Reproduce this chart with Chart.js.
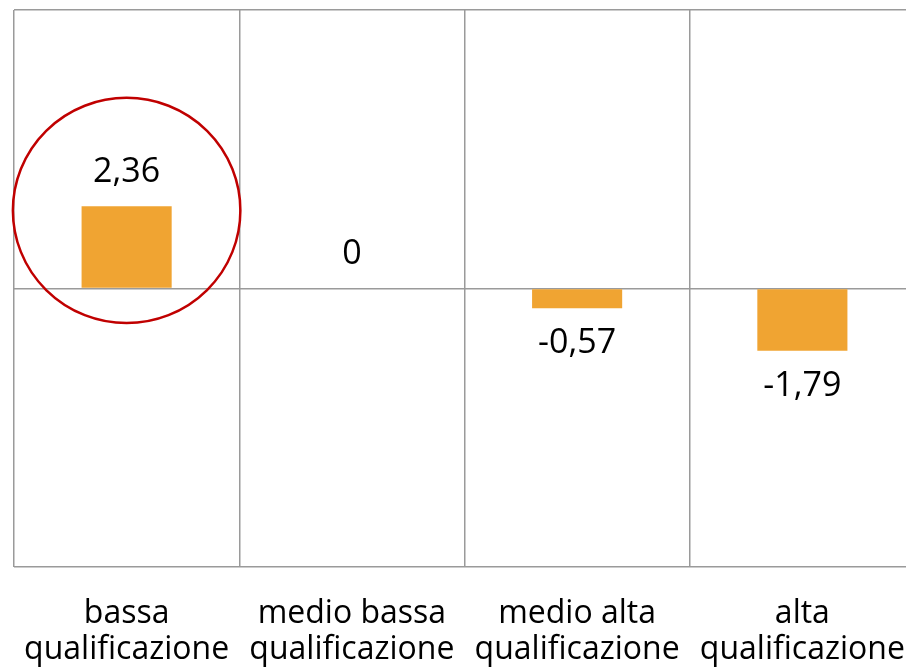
<!DOCTYPE html>
<html>
<head>
<meta charset="utf-8">
<script src="https://cdn.jsdelivr.net/npm/chart.js@4.4.1/dist/chart.umd.min.js"></script>
<style>
  html, body { margin: 0; padding: 0; background: #fff; overflow: hidden; }
  #wrap { width: 930px; height: 700px; position: relative; }
</style>
</head>
<body>
<div id="wrap"><canvas id="chart"></canvas></div>
<script>
// Data
const categories = [
    ['bassa', 'qualificazione'],
    ['medio bassa', 'qualificazione'],
    ['medio alta', 'qualificazione'],
    ['alta', 'qualificazione']
];
const values = [2.36, 0, -0.57, -1.79];
const yMin = -8;
const yMax = 8;
const highlightIndex = 0; // category circled in red

const fontFamily = "'Open Sans', 'Liberation Sans', sans-serif";

// value labels above / below each bar
const valueLabels = {
    id: 'valueLabels',
    afterDatasetsDraw(chart) {
        const ctx = chart.ctx;
        const meta = chart.getDatasetMeta(0);
        const yScale = chart.scales.y;
        const zero = yScale.getPixelForValue(0);
        ctx.save();
        ctx.font = '34px ' + fontFamily;
        ctx.fillStyle = '#000';
        ctx.textAlign = 'center';
        ctx.textBaseline = 'middle';
        meta.data.forEach((bar, i) => {
            const v = values[i];
            const text = String(v).replace('.', ',');
            let y;
            if (v < 0) y = bar.y + 35;
            else y = Math.min(bar.y, zero) - 34;
            ctx.fillText(text, bar.x, y);
        });
        ctx.restore();
    }
};

// red circle round the highlighted bar
const highlightCircle = {
    id: 'highlightCircle',
    afterDraw(chart) {
        const ctx = chart.ctx;
        const xScale = chart.scales.x;
        const yScale = chart.scales.y;
        const cx = xScale.getPixelForValue(highlightIndex);
        const catW = xScale.width / categories.length;
        const cy = yScale.getPixelForValue(values[highlightIndex] * 0.95);
        ctx.save();
        ctx.strokeStyle = '#c00000';
        ctx.lineWidth = 2.5;
        ctx.beginPath();
        ctx.ellipse(cx, cy, catW * 0.505, catW * 0.5, 0, 0, Math.PI * 2);
        ctx.stroke();
        ctx.restore();
    }
};

const ctx = document.getElementById('chart').getContext('2d');
new Chart(ctx, {
    type: 'bar',
    data: {
        labels: categories,
        datasets: [{
            data: values,
            backgroundColor: '#f0a432',
            borderWidth: 0,
            barPercentage: 1,
            categoryPercentage: 0.4
        }]
    },
    options: {
        responsive: true,
        maintainAspectRatio: false,
        animation: false,
        layout: { padding: { top: 10, left: 14, right: 15, bottom: 27 } },
        plugins: {
            legend: { display: false },
            tooltip: { enabled: false }
        },
        scales: {
            x: {
                grid: {
                    color: '#9a9a9a',
                    lineWidth: 1.5,
                    offset: true,
                    drawTicks: true,
                    tickLength: 24,
                    tickColor: 'rgba(0,0,0,0)'
                },
                border: { display: false },
                ticks: {
                    color: '#000',
                    padding: 5,
                    maxRotation: 0,
                    autoSkip: false,
                    font: { family: fontFamily, size: 32, lineHeight: 1.125 }
                }
            },
            y: {
                min: yMin,
                max: yMax,
                grid: { color: '#9a9a9a', lineWidth: 1.5, drawTicks: false },
                border: { display: false },
                ticks: { display: false, stepSize: 8 }
            }
        }
    },
    plugins: [valueLabels, highlightCircle]
});
</script>
</body>
</html>
